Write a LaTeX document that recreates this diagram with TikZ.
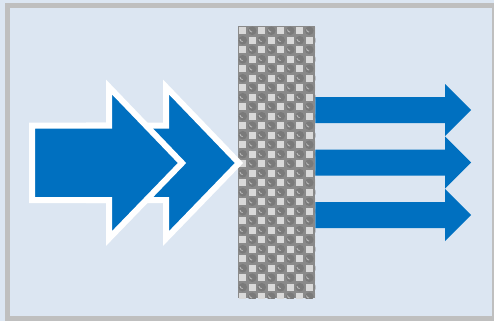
\documentclass[tikz,border=0pt]{standalone}
\usepackage{tikz}
\usetikzlibrary{positioning}
\definecolor{arrowBlue}{HTML}{0070C0}
\definecolor{panelBg}{HTML}{DCE6F2}
\definecolor{frameGray}{HTML}{BFBFBF}
\definecolor{meshGray}{HTML}{8A8A8A}
\definecolor{meshLight}{HTML}{D9D9D9}
\definecolor{meshDark}{HTML}{7A7A7A}

\tikzset{
  bigarrow/.style={fill=arrowBlue, draw=white, line width=6pt, miter limit=10},
  outarrow/.style={fill=arrowBlue},
}

\begin{document}
\begin{tikzpicture}[x=1pt,y=-1pt]
  \useasboundingbox (0,0) rectangle (494,321);
  % panel
  \fill[panelBg] (0,0) rectangle (494,321);
  \begin{scope}
    \clip (0,0) rectangle (494,321);
    \draw[frameGray, line width=5pt] (7.5,5.5) rectangle (494.5,318.5);
  \end{scope}
  % filter mesh
  \node[fill=meshGray, minimum width=77pt, minimum height=272pt, inner sep=0pt,
        anchor=north west] (filter) at (238,26) {};
  \begin{scope}
    \clip (filter.south west) rectangle (filter.north east);
    \foreach \j in {0,...,29}{
      \foreach \i in {-1,...,4}{
        \pgfmathsetmacro\sx{238+19*\i+9.5*mod(\j,2)}
        \pgfmathsetmacro\sy{26+9.5*\j}
        \fill[meshDark] (\sx+14.25,\sy+4.75) circle (4.3pt);
        \draw[meshLight!60!meshGray, line width=0.9pt] (\sx+11.5,\sy+3.5) arc (180:270:2.6pt);
        \fill[meshLight] (\sx+1.25,\sy+1.25) rectangle +(7,7);
      }
    }
  \end{scope}
  % incoming arrows
  \begin{scope}[shift={(57,0)}]
    \draw[bigarrow] (32,125.5) -- (109,125.5) -- (109,87) -- (182,163)
      -- (109,238.5) -- (109,200) -- (32,200) -- cycle;
  \end{scope}
  \draw[bigarrow] (32,125.5) -- (109,125.5) -- (109,87) -- (182,163)
    -- (109,238.5) -- (109,200) -- (32,200) -- cycle;
  % outgoing arrows
  \foreach \cy in {110,162.5,215}{
    \fill[outarrow] (filter.east |- 0,\cy-13) -- (445,\cy-13) -- (445,\cy-26)
      -- (471,\cy) -- (445,\cy+26) -- (445,\cy+13) -- (filter.east |- 0,\cy+13) -- cycle;
  }
\end{tikzpicture}
\end{document}
